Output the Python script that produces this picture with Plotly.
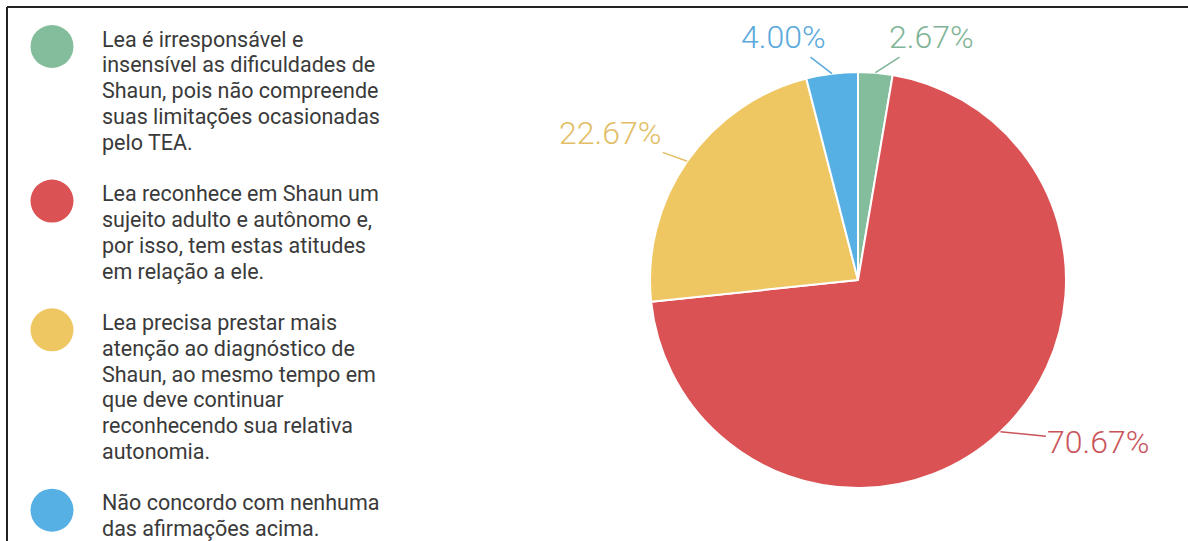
import math
import plotly.graph_objects as go

# ---- data ----
categories = [
    "Lea é irresponsável e<br>insensível as dificuldades de<br>Shaun, pois não compreende<br>suas limitações ocasionadas<br>pelo TEA.",
    "Lea reconhece em Shaun um<br>sujeito adulto e autônomo e,<br>por isso, tem estas atitudes<br>em relação a ele.",
    "Lea precisa prestar mais<br>atenção ao diagnóstico de<br>Shaun, ao mesmo tempo em<br>que deve continuar<br>reconhecendo sua relativa<br>autonomia.",
    "Não concordo com nenhuma<br>das afirmações acima.",
]
percentages = [2.67, 70.67, 22.67, 4.00]

# ---- styles ----
colors = ["#84bd9c", "#da5254", "#eec763", "#57b0e4"]
label_colors = ["#7fb497", "#c9545a", "#e2be66", "#5aa9dc"]
W, H = 1188, 541
CX, CY, R = 858, 280, 208          # pie centre / radius in pixels
label_offsets = [(56, -36), (98, 10), (-77, -28), (-48, -37)]   # text offset from slice edge (px)
FIRST_BASELINE = 46.5
LINE_STEP = 25.76
LEGEND_FONT = 21.5
CIRCLE_D = 43
CIRCLE_X = 52
TEXT_X = 100


def px(x):
    return x / W


def py(y):
    return 1 - y / H


fig = go.Figure()
fig.add_trace(go.Pie(
    labels=[c.replace("<br>", " ") for c in categories],
    values=percentages,
    sort=False,
    direction="clockwise",
    rotation=0,
    marker=dict(colors=colors, line=dict(color="white", width=2)),
    textinfo="none",
    hoverinfo="label+percent",
    showlegend=False,
    domain=dict(x=[px(CX - R), px(CX + R)], y=[py(CY + R), py(CY - R)]),
))

annotations = []
shapes = []

# percentage labels with leader lines, positioned from the slice mid-angles
total = sum(percentages)
cum = 0.0
for v, col, (dx, dy) in zip(percentages, label_colors, label_offsets):
    mid = (cum + v / 2) / total * 2 * math.pi
    cum += v
    ex = CX + R * math.sin(mid)
    ey = CY - R * math.cos(mid)
    annotations.append(dict(
        x=px(ex), y=py(ey), xref="paper", yref="paper",
        text=f"{v:.2f}%", showarrow=True, arrowhead=0, arrowwidth=1.5,
        arrowcolor=col, ax=dx, ay=dy, standoff=0,
        font=dict(family="Roboto", size=32, color=col, weight=300),
    ))

# custom legend with large circles, one text line per annotation
line_idx = 0
for cat, col in zip(categories, colors):
    lines = cat.split("<br>")
    first_base = FIRST_BASELINE + line_idx * LINE_STEP
    shapes.append(dict(
        type="circle", xref="paper", yref="paper",
        x0=px(CIRCLE_X - CIRCLE_D / 2), x1=px(CIRCLE_X + CIRCLE_D / 2),
        y0=py(first_base + CIRCLE_D / 2), y1=py(first_base - CIRCLE_D / 2),
        fillcolor=col, line=dict(width=0),
    ))
    for ln in lines:
        base = FIRST_BASELINE + line_idx * LINE_STEP
        annotations.append(dict(
            x=px(TEXT_X), y=py(base - 0.34 * LEGEND_FONT), xref="paper", yref="paper",
            xanchor="left", yanchor="middle", align="left", showarrow=False,
            text=ln, font=dict(family="Roboto", size=LEGEND_FONT, color="#3a3a3a"),
        ))
        line_idx += 1
    line_idx += 1  # blank line between legend items

# frame (top and left edges)
shapes.append(dict(type="line", xref="paper", yref="paper", x0=px(7), x1=1, y0=py(7), y1=py(7),
                   line=dict(color="#222222", width=2)))
shapes.append(dict(type="line", xref="paper", yref="paper", x0=px(7), x1=px(7), y0=py(7), y1=0,
                   line=dict(color="#222222", width=2)))

fig.update_layout(
    width=W, height=H,
    margin=dict(l=0, r=0, t=0, b=0),
    paper_bgcolor="white", plot_bgcolor="white",
    annotations=annotations, shapes=shapes,
)

fig.write_html(
    "out.html",
    config={"displayModeBar": False},
    post_script="document.body.style.margin='0';document.body.style.overflow='hidden';",
)
